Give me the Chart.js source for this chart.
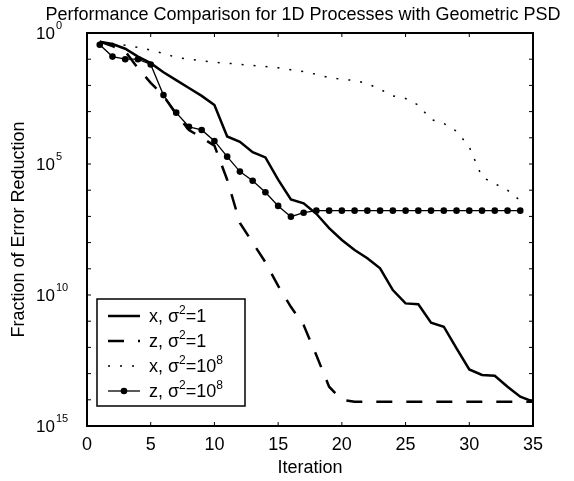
<!DOCTYPE html>
<html>
<head>
<meta charset="utf-8">
<script src="https://cdn.jsdelivr.net/npm/chart.js@4/dist/chart.umd.min.js"></script>
<style>
html, body { margin: 0; padding: 0; background: #fff; }
</style>
</head>
<body>
<canvas id="perfChart" width="574" height="481"></canvas>
<script>
// iteration numbers (x)
const iterations = [1, 2, 3, 4, 5, 6, 7, 8, 9, 10, 11, 12, 13, 14, 15, 16, 17, 18,
    19, 20, 21, 22, 23, 24, 25, 26, 27, 28, 29, 30, 31, 32, 33, 34, 35];

// log10 of the fraction of error reduction
const xSigma1 = [-0.33, -0.42, -0.6, -0.9, -1.15, -1.5, -1.8, -2.1, -2.4, -2.75,
    -3.95, -4.15, -4.55, -4.75, -5.6, -6.35, -6.5, -6.9, -7.45, -7.9,
    -8.28, -8.6, -8.98, -9.81, -10.32, -10.35, -11.06, -11.21, -12.04, -12.84,
    -13.05, -13.08, -13.5, -13.88, -14.07];
const zSigma1 = [-0.33, -0.5, -0.7, -1.35, -1.9, -2.4, -3.1, -3.7, -4.0, -4.3,
    -5.6, -7.25, -8.0, -8.75, -9.65, -10.45, -11.15, -12.3, -13.5, -14.0,
    -14.07, -14.07, -14.07, -14.07, -14.07, -14.07, -14.07, -14.07, -14.07, -14.07,
    -14.07, -14.07, -14.07, -14.07, -14.07];
const xSigma1e8 = [-0.33, -0.4, -0.47, -0.55, -0.65, -0.78, -0.93, -1.0, -1.06, -1.12,
    -1.15, -1.2, -1.24, -1.28, -1.33, -1.4, -1.47, -1.58, -1.7, -1.77,
    -1.81, -1.93, -2.15, -2.4, -2.5, -2.75, -3.3, -3.45, -3.75, -4.35,
    -5.5, -5.75, -6.0, -6.4];
const zSigma1e8 = [-0.45, -0.9, -1.0, -1.0, -1.2, -2.37, -3.04, -3.58, -3.7, -4.12,
    -4.72, -5.29, -5.64, -6.08, -6.6, -7.01, -6.86, -6.78, -6.78, -6.78,
    -6.78, -6.78, -6.78, -6.78, -6.78, -6.78, -6.78, -6.78, -6.78, -6.78,
    -6.78, -6.78, -6.78, -6.78];

const titleText = 'Performance Comparison for 1D Processes with Geometric PSD';
const legendLabels = ['x, σ^2=1', 'z, σ^2=1', 'x, σ^2=10^8', 'z, σ^2=10^8'];
const xTicks = [0, 5, 10, 15, 20, 25, 30, 35];
const yTickExps = [0, 5, 10, 15];          // labels shown as 10^k
const yDecades = [0, 1, 2, 3, 4, 5, 6, 7, 8, 9, 10, 11, 12, 13, 14, 15];

const FONT = '"Liberation Sans", Arial, Helvetica, sans-serif';

const toPoints = exps => exps.map((e, i) => ({ x: iterations[i], y: Math.pow(10, e) }));

// split "σ^2=10^8" into normal / superscript pieces
function splitSup(str) {
    const parts = [];
    let buf = '';
    for (let i = 0; i < str.length; i++) {
        if (str[i] === '^') {
            if (buf) parts.push({ t: buf, sup: false });
            buf = '';
            parts.push({ t: str[i + 1], sup: true });
            i++;
        } else {
            buf += str[i];
        }
    }
    if (buf) parts.push({ t: buf, sup: false });
    return parts;
}

function drawSupText(ctx, str, x, y, size) {
    let cx = x;
    splitSup(str).forEach(p => {
        if (p.sup) {
            ctx.font = Math.round(size * 0.65) + 'px ' + FONT;
            ctx.fillText(p.t, cx, y - size * 0.45);
        } else {
            ctx.font = size + 'px ' + FONT;
            ctx.fillText(p.t, cx, y);
        }
        cx += ctx.measureText(p.t).width;
    });
}

// title, box, inward ticks, log tick labels and in-plot legend
const matlabAxes = {
    id: 'matlabAxes',
    afterDraw(chart) {
        const { ctx, chartArea: a, scales: { x, y } } = chart;
        ctx.save();
        ctx.fillStyle = '#000';
        ctx.font = '18px ' + FONT;
        ctx.textAlign = 'center';
        ctx.textBaseline = 'alphabetic';
        ctx.fillText(titleText, 303, 20);

        ctx.strokeStyle = '#000';
        ctx.lineWidth = 2;
        ctx.strokeRect(a.left, a.top, a.right - a.left, a.bottom - a.top);

        const tl = 4;
        ctx.beginPath();
        xTicks.forEach(v => {
            const px = x.getPixelForValue(v);
            ctx.moveTo(px, a.bottom); ctx.lineTo(px, a.bottom - tl);
            ctx.moveTo(px, a.top); ctx.lineTo(px, a.top + tl);
        });
        yDecades.forEach(k => {
            const py = y.getPixelForValue(Math.pow(10, -k));
            ctx.moveTo(a.left, py); ctx.lineTo(a.left + tl, py);
            ctx.moveTo(a.right, py); ctx.lineTo(a.right - tl, py);
        });
        ctx.lineWidth = 1;
        ctx.stroke();

        // y tick labels: "10" right aligned, exponent hanging to the right
        ctx.textBaseline = 'middle';
        yTickExps.forEach(k => {
            const py = y.getPixelForValue(Math.pow(10, -k));
            ctx.font = '17px ' + FONT;
            ctx.textAlign = 'right';
            ctx.fillText('10', 55, py + 1);
            ctx.font = '11px ' + FONT;
            ctx.textAlign = 'left';
            ctx.fillText(String(k), 56, py - 7);
        });

        // legend
        const lx = 97, ly = 299, lw = 148, lh = 107;
        ctx.fillStyle = '#fff';
        ctx.fillRect(lx, ly, lw, lh);
        ctx.lineWidth = 1.5;
        ctx.strokeStyle = '#000';
        ctx.strokeRect(lx, ly, lw, lh);
        chart.data.datasets.forEach((ds, i) => {
            const ry = 316 + i * 25;
            ctx.save();
            ctx.strokeStyle = ds.borderColor;
            ctx.lineWidth = ds.borderWidth;
            ctx.setLineDash(ds.borderDash || []);
            ctx.beginPath();
            ctx.moveTo(108, ry); ctx.lineTo(140, ry);
            ctx.stroke();
            if (ds.pointRadius > 0) {
                ctx.fillStyle = ds.pointBackgroundColor;
                ctx.beginPath();
                ctx.arc(124, ry, ds.pointRadius, 0, Math.PI * 2);
                ctx.fill();
            }
            ctx.restore();
            ctx.fillStyle = '#000';
            ctx.textAlign = 'left';
            ctx.textBaseline = 'alphabetic';
            drawSupText(ctx, legendLabels[i], 149, ry + 6, 18);
        });
        ctx.restore();
    }
};

new Chart(document.getElementById('perfChart'), {
    type: 'line',
    data: {
        datasets: [
            { label: 'x, σ²=1', data: toPoints(xSigma1), borderColor: '#000', borderWidth: 2.5, pointRadius: 0 },
            { label: 'z, σ²=1', data: toPoints(zSigma1), borderColor: '#000', borderWidth: 2.5, borderDash: [16, 14], pointRadius: 0 },
            { label: 'x, σ²=10⁸', data: toPoints(xSigma1e8), borderColor: '#000', borderWidth: 1.5, borderDash: [2, 10], pointRadius: 0 },
            { label: 'z, σ²=10⁸', data: toPoints(zSigma1e8), borderColor: '#000', borderWidth: 1.3, pointRadius: 3.3,
              pointBackgroundColor: '#000', pointBorderWidth: 0 }
        ]
    },
    options: {
        responsive: false,
        animation: false,
        devicePixelRatio: 1,
        layout: { padding: { left: 0, right: 41, top: 33, bottom: 0 } },
        plugins: {
            legend: { display: false },
            tooltip: { enabled: false },
            title: { display: false }
        },
        scales: {
            x: {
                type: 'linear', min: 0, max: 35,
                grid: { display: false, drawTicks: false },
                border: { display: false },
                ticks: { stepSize: 5, color: '#000', padding: 8, font: { family: FONT, size: 18 } },
                title: { display: true, text: 'Iteration', color: '#000',
                    font: { family: FONT, size: 18, lineHeight: 1.2 }, padding: { top: 0, bottom: 2 } },
                afterFit: s => { s.height = 55; }
            },
            y: {
                type: 'logarithmic', min: 1e-15, max: 1,
                grid: { display: false, drawTicks: false },
                border: { display: false },
                ticks: { display: false },
                title: { display: true, text: 'Fraction of Error Reduction', color: '#000',
                    font: { family: FONT, size: 18, lineHeight: 1.2 }, padding: { top: 8, bottom: 0 } },
                afterFit: s => { s.width = 87; }
            }
        }
    },
    plugins: [matlabAxes]
});
</script>
</body>
</html>
